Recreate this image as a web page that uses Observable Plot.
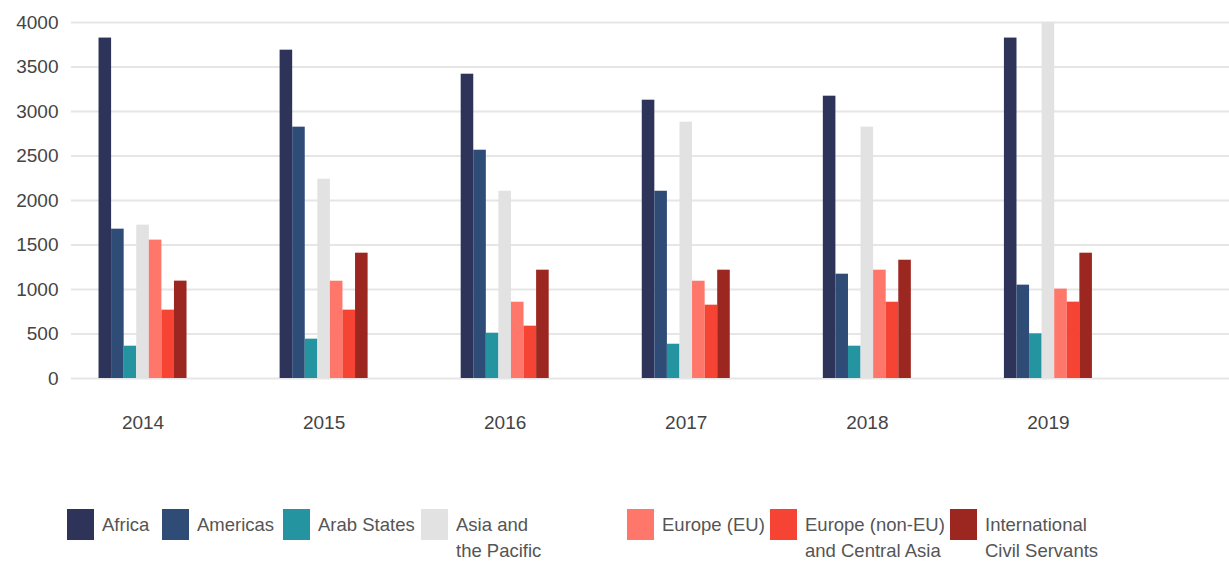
<!DOCTYPE html>
<html>
<head>
<meta charset="utf-8">
<script src="https://cdn.jsdelivr.net/npm/d3@7"></script>
<script src="https://cdn.jsdelivr.net/npm/@observablehq/plot@0.6"></script>
<style>
  html, body { margin: 0; padding: 0; background: #fff; }
  body { width: 1229px; height: 566px; overflow: hidden; font-family: "Liberation Sans", "Roboto", sans-serif; }
  #chart svg { display: block; }
  #legend { position: relative; height: 116px; }
  .item { position: absolute; top: 59px; display: flex; align-items: flex-start; }
  .sw { width: 27px; height: 31px; flex: none; }
  .lbl { margin-left: 8px; font-size: 18.5px; line-height: 26px; color: #555; margin-top: 3px; white-space: nowrap; }
</style>
</head>
<body>
<div id="chart"></div>
<div id="legend"></div>
<script>
const years = ["2014", "2015", "2016", "2017", "2018", "2019"];
const series = ["Africa", "Americas", "Arab States", "Asia and the Pacific", "Europe (EU)", "Europe (non-EU) and Central Asia", "International Civil Servants"];
const legendLabels = ["Africa", "Americas", "Arab States", "Asia and<br>the Pacific", "Europe (EU)", "Europe (non-EU)<br>and Central Asia", "International<br>Civil Servants"];
const colors = ["#2e3359", "#2f4c77", "#2394a0", "#e2e2e2", "#ff766b", "#f54433", "#9b2720"];

const africa   = [3825, 3689, 3419, 3127, 3172, 3825];
const americas = [1678, 2824, 2565, 2104, 1172, 1049];
const arab     = [363, 442, 509, 385, 363, 502];
const asia     = [1723, 2239, 2104, 2880, 2824, 4000];
const euEU     = [1555, 1093, 857, 1093, 1217, 1004];
const euNonEU  = [768, 768, 588, 824, 857, 858];
const ics      = [1094, 1408, 1217, 1217, 1329, 1408];
const yTicks   = [0, 500, 1000, 1500, 2000, 2500, 3000, 3500, 4000];

const valuesBySeries = [africa, americas, arab, asia, euEU, euNonEU, ics];

const rows = [];
years.forEach((yr, i) => {
  series.forEach((s, k) => {
    rows.push({year: yr, yi: i, series: s, k, value: valuesBySeries[k][i]});
  });
});

const groupWidth = 0.486;
const bw = groupWidth / series.length;

const font = '"Liberation Sans", "Roboto", sans-serif';

const chart = Plot.plot({
  width: 1229,
  height: 450,
  marginTop: 22,
  marginBottom: 72,
  marginLeft: 71,
  marginRight: 0,
  style: {fontFamily: font, fontSize: "19px", color: "#444", background: "#fff"},
  x: {type: "linear", domain: [-0.395, 6.0], axis: null, label: null},
  y: {domain: [0, 4000], axis: null, label: null},
  color: {domain: series, range: colors},
  marks: [
    Plot.ruleY(yTicks, {stroke: "#e6e6e6", strokeWidth: 2}),
    Plot.rectY(rows, {
      x1: d => d.yi - groupWidth / 2 + d.k * bw,
      x2: d => d.yi - groupWidth / 2 + (d.k + 1) * bw,
      y1: 0,
      y2: "value",
      fill: "series",
      inset: 0
    }),
    Plot.axisY(yTicks, {label: null, tickSize: 0, tickPadding: 13, fontSize: 19, fill: "#444", tickFormat: d => String(d)}),
    Plot.axisX(d3.range(years.length), {label: null, tickSize: 0, tickPadding: 37, fontSize: 19, fill: "#444", tickFormat: i => years[i]})
  ]
});
document.getElementById("chart").appendChild(chart);

const legendLeft = [67, 162, 283, 421, 627, 770, 950];
const legend = document.getElementById("legend");
series.forEach((s, k) => {
  const it = document.createElement("div");
  it.className = "item";
  it.style.left = legendLeft[k] + "px";
  it.innerHTML = `<div class="sw" style="background:${colors[k]}"></div><div class="lbl">${legendLabels[k]}</div>`;
  legend.appendChild(it);
});
</script>
</body>
</html>
